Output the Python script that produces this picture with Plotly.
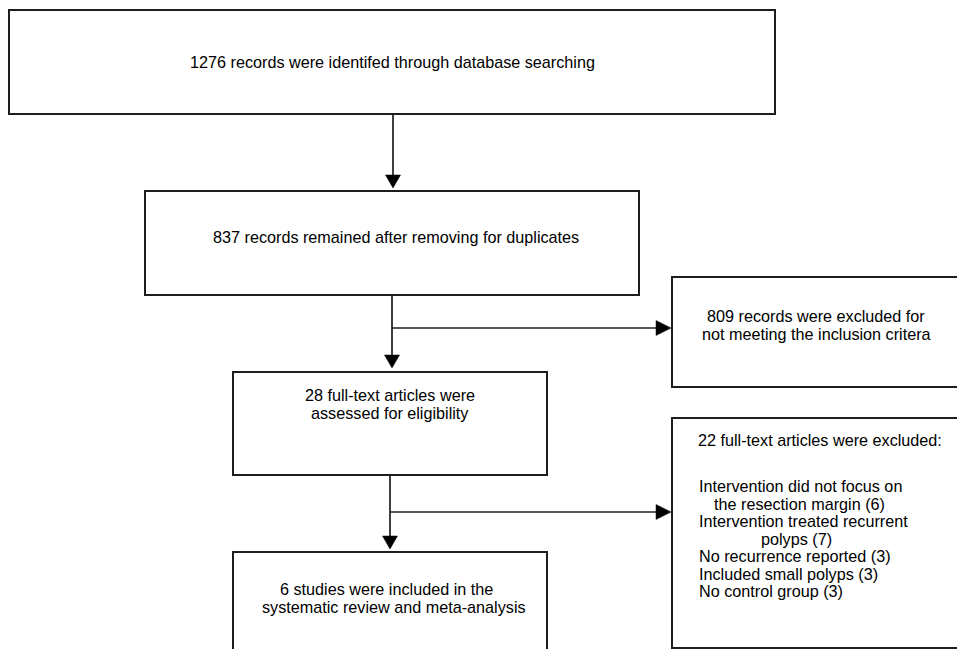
import plotly.graph_objects as go

# ---- content (texts / counts) ----
identified_text = ["1276 records were identifed through database searching"]
deduped_text = ["837 records remained after removing for duplicates"]
screen_excl_text = ["809 records were excluded for", "not meeting the inclusion critera"]
fulltext_text = ["28 full-text articles were", "assessed for eligibility"]
included_text = ["6 studies were included in the", "systematic review and meta-analysis"]
reasons_header = ["22 full-text articles were excluded:"]
reasons_text = [
    "Intervention did not focus on",
    "the resection margin (6)",
    "Intervention treated recurrent",
    "polyps (7)",
    "No recurrence reported (3)",
    "Included small polyps (3)",
    "No control group (3)",
]

# ---- layout geometry (pixels, y downwards) ----
W, H = 957, 649
FONT = dict(family="Liberation Sans, Arial, sans-serif", size=16.2, color="#000000")
EDGE = "#1e1e1e"

boxes = {
    "id":   (9, 775, 10, 114),
    "dup":  (145, 639, 191, 295),
    "excl": (672, 970, 277, 387),
    "ft":   (233, 547, 372, 475),
    "rsn":  (672, 970, 418, 648),
    "inc":  (233, 547, 552, 700),
}

fig = go.Figure()
fig.add_trace(go.Scatter(x=[0, W], y=[0, H], mode="markers",
                         marker=dict(opacity=0), hoverinfo="skip", showlegend=False))

shapes = []
for k, (x0, x1, y0, y1) in boxes.items():
    shapes.append(dict(type="rect", xref="x", yref="y", x0=x0, x1=x1, y0=y0, y1=y1,
                       line=dict(color=EDGE, width=2), fillcolor="rgba(0,0,0,0)"))

LW = 1.7
AW, AL = 7.5, 13  # arrowhead half-width, length


def vline(x, y0, y1):
    shapes.append(dict(type="line", xref="x", yref="y", x0=x, x1=x, y0=y0, y1=y1,
                       line=dict(color=EDGE, width=LW)))


def hline(y, x0, x1):
    shapes.append(dict(type="line", xref="x", yref="y", x0=x0, x1=x1, y0=y, y1=y,
                       line=dict(color=EDGE, width=LW)))


def head_down(x, ytip):
    shapes.append(dict(type="path", xref="x", yref="y",
                       path=f"M {x-AW},{ytip-AL} L {x+AW},{ytip-AL} L {x},{ytip} Z",
                       fillcolor="#000000", line=dict(color="#000000", width=0.5)))


def head_right(xtip, y):
    shapes.append(dict(type="path", xref="x", yref="y",
                       path=f"M {xtip-AL-2},{y-AW} L {xtip-AL-2},{y+AW} L {xtip},{y} Z",
                       fillcolor="#000000", line=dict(color="#000000", width=0.5)))


# connector 1: identified -> deduplicated
cx1 = 393
vline(cx1, boxes["id"][3], boxes["dup"][2] - 5)
head_down(cx1, boxes["dup"][2] - 3)
# connector 2: deduplicated -> full text, with branch to exclusion
cx2 = 392
vline(cx2, boxes["dup"][3], boxes["ft"][2] - 6)
head_down(cx2, boxes["ft"][2] - 4)
hline(328, cx2, boxes["excl"][0] - 6)
head_right(boxes["excl"][0] - 1, 328)
# connector 3: full text -> included, with branch to reasons
cx3 = 390
vline(cx3, boxes["ft"][3], boxes["inc"][2] - 6)
head_down(cx3, boxes["inc"][2] - 3)
hline(512, cx3, boxes["rsn"][0] - 6)
head_right(boxes["rsn"][0] - 1, 512)

annotations = []


def txt(s, x, y, anchor="left"):
    annotations.append(dict(text=s, x=x, y=y, xref="x", yref="y", showarrow=False,
                            xanchor=anchor, yanchor="middle", font=FONT))


txt(identified_text[0], 188, 62)
txt(deduped_text[0], 211, 237)
txt(screen_excl_text[0], 705, 316)
txt(screen_excl_text[1], 700, 334)
txt(fulltext_text[0], 390, 395, "center")
txt(fulltext_text[1], 390, 413, "center")
txt(included_text[0], 278, 589)
txt(included_text[1], 260, 607)
txt(reasons_header[0], 696, 440)
reason_x = [697, 712, 697, 759, 697, 697, 697]
reason_y = [486, 504, 521, 539, 556, 574, 591]
for s, x, y in zip(reasons_text, reason_x, reason_y):
    txt(s, x, y)

fig.update_layout(
    width=W, height=H, margin=dict(l=0, r=0, t=0, b=0),
    paper_bgcolor="white", plot_bgcolor="white",
    xaxis=dict(range=[0, W], visible=False, fixedrange=True),
    yaxis=dict(range=[H, 0], visible=False, fixedrange=True),
    shapes=shapes, annotations=annotations, showlegend=False,
)
fig.write_html(
    "out.html",
    config={"displayModeBar": False},
    post_script="document.body.style.margin='0';document.body.style.overflow='hidden';",
)
